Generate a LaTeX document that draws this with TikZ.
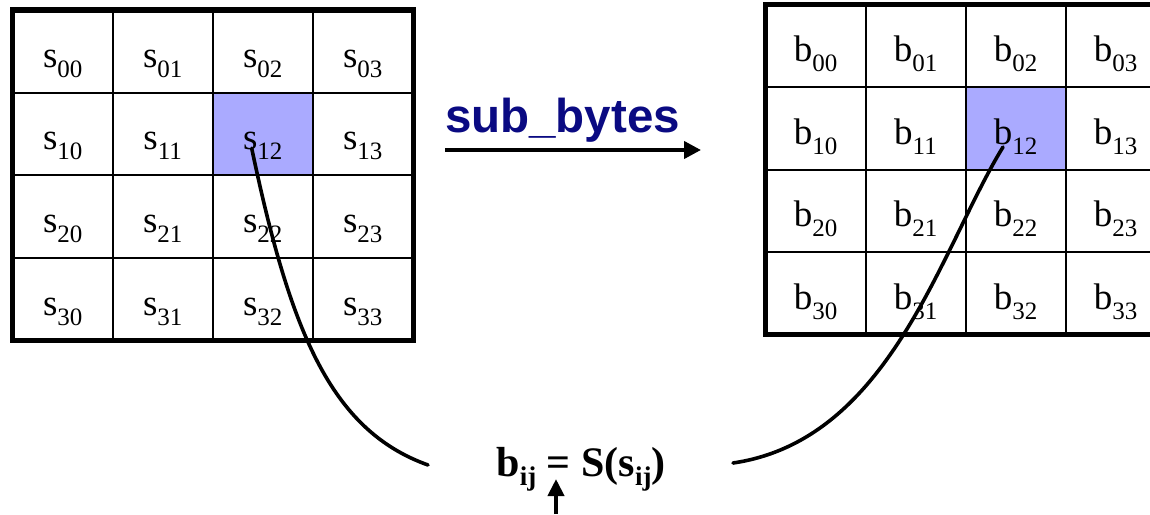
\documentclass[tikz,border=0pt]{standalone}
\usepackage{fontspec}
\setmainfont{Liberation Serif}
\newfontfamily\arialfont{Liberation Sans}
\usetikzlibrary{arrows.meta,calc}
\definecolor{opblue}{RGB}{10,10,130}
\definecolor{pickcell}{RGB}{170,170,255}
\newcommand\entry[2]{\fontsize{37}{37}\selectfont #1\raisebox{-10pt}{\fontsize{25}{25}\selectfont #2}}
\newcommand\lowij[1]{\raisebox{-9pt}{\fontsize{27}{27}\selectfont #1}}
\tikzset{
	cell/.style={anchor=base,inner sep=0pt},
	gridline/.style={line width=2pt},
	frame/.style={line width=5.3pt,line cap=rect,line join=miter},
	link/.style={line width=3.6pt},
}

\begin{document}
\begin{tikzpicture}[x=1pt,y=-1pt,line join=round,line cap=round]
	\useasboundingbox (0,0) rectangle (1150,514);
	\clip (0,0) rectangle (1150,514);
	\path 
	(12.7,10) coordinate (SA)
	(413.3,340.7) coordinate (SB)
	(765.5,4.5) coordinate (BA)
	(1165.5,334.5) coordinate (BB)
	(445,150) coordinate (opstart)
	(701,150) coordinate (opend)
	(428,465) coordinate (lend)
	(733,463) coordinate (rend)
	(556,514) coordinate (tipfoot)
	(556,479) coordinate (tiptop)
	;
	\fill[pickcell] (212.7,92.7) rectangle (312.7,175);
	\fill[pickcell] (965.5,87) rectangle (1065.5,169.5);
	
	\foreach \i in {1,2,3} {
		\draw[gridline] ({12.7+100*\i},10) -- ({12.7+100*\i},340.7);
		\draw[gridline] (12.7,{10+82.7*\i}) -- (413.3,{10+82.7*\i});
		\draw[gridline] ({765.5+100*\i},4.5) -- ({765.5+100*\i},334.5);
		\draw[gridline] (765.5,{4.5+82.5*\i}) -- (1165.5,{4.5+82.5*\i});
	}
	\draw[frame] (SA) rectangle (SB);
	\draw[frame] (BA) rectangle (BB);
	
	\foreach \r in {0,...,3}
	\foreach \c in {0,...,3} {
		\node[cell] (s\r\c) at ({62.7+100*\c},{67+82.7*\r}) {\entry{s}{\r\c}};
		\node[cell] (b\r\c) at ({815.5+100*\c},{61.5+82.5*\r}) {\entry{b}{\r\c}};
	}
	
	\node[anchor=base,text=opblue] (opname) at (562.5,132)
	{\arialfont\bfseries\fontsize{47.5}{47.5}\selectfont sub\_bytes};
	\draw[line width=4pt,line cap=butt,-{Triangle[length=17pt,width=17pt]}] (opstart) -- (opend);
	
	\node[anchor=base] (rule) at (581,476)
	{\bfseries\fontsize{42}{42}\selectfont b\lowij{ij} = S(s\lowij{ij})};
	
	\coordinate (sfoot) at ($(s12.base)+(-11,-1.4)$);
	\coordinate (bfoot) at ($(b12.base)+(-12.5,3)$);
	\draw[link] (sfoot) .. controls (290,330) and (330,430) .. (lend);
	\draw[link] (bfoot) .. controls (940,250) and (890,440) .. (rend);
	\draw[line width=4pt,line cap=butt,-{Triangle[length=17pt,width=16pt]}] (tipfoot) -- (tiptop);
\end{tikzpicture}
\end{document}
